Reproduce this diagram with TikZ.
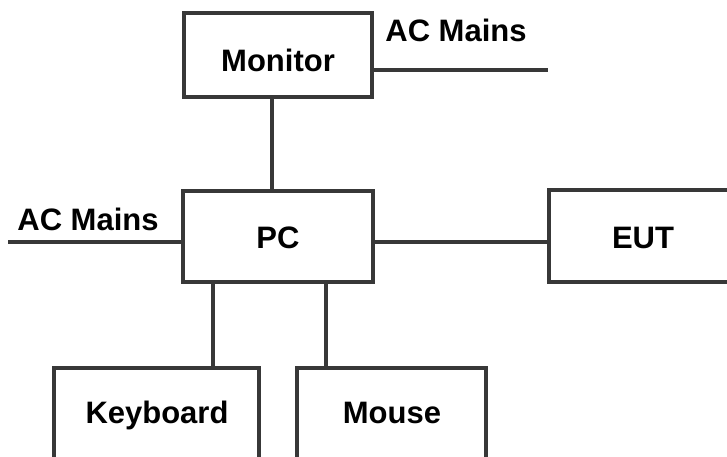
\documentclass[tikz,border=0pt]{standalone}
\usepackage{fontspec}
\setmainfont{Liberation Sans}
\begin{document}
\begin{tikzpicture}[x=1pt,y=-1pt,
  box/.style={draw=linegray,line width=4pt,fill=white,inner sep=0pt},
  wire/.style={draw=linegray,line width=4pt},
  lbl/.style={inner sep=0pt,font=\fontsize{31}{36}\selectfont\bfseries}]
\definecolor{linegray}{HTML}{383838}
\useasboundingbox (0,0) rectangle (727,456);
\node[box,minimum width=188pt,minimum height=84pt] (mon) at (278,55) {};
\node[box,minimum width=190pt,minimum height=91pt] (pc) at (278,236.5) {};
\node[box,minimum width=190pt,minimum height=92pt] (eut) at (644,236) {};
\node[box,minimum width=205pt,minimum height=110pt] (kb) at (156.5,423) {};
\node[box,minimum width=189pt,minimum height=110pt] (ms) at (391.5,423) {};
\node[lbl] (mont) at (278,60) {Monitor};
\node[lbl] (pct) at (278,238) {PC};
\node[lbl] (eutt) at (643,237.5) {EUT};
\node[lbl] (kbt) at (157,415) {Keyboard};
\node[lbl] (mst) at (392,413) {Mouse};
\coordinate (acR) at (548,70);
\coordinate (acL) at (8,242);
\node[lbl] (acRt) at (456,30) {AC Mains};
\node[lbl] (acLt) at (88,219) {AC Mains};
\draw[wire] (mon.south -| 272,0) -- (pc.north -| 272,0);
\draw[wire] (mon.east |- acR) -- (acR);
\draw[wire] (acL) -- (pc.west |- acL);
\draw[wire] (pc.east |- 0,242) -- (eut.west |- 0,242);
\draw[wire] (pc.south -| 213,0) -- (kb.north -| 213,0);
\draw[wire] (pc.south -| 326,0) -- (ms.north -| 326,0);
\end{tikzpicture}
\end{document}
